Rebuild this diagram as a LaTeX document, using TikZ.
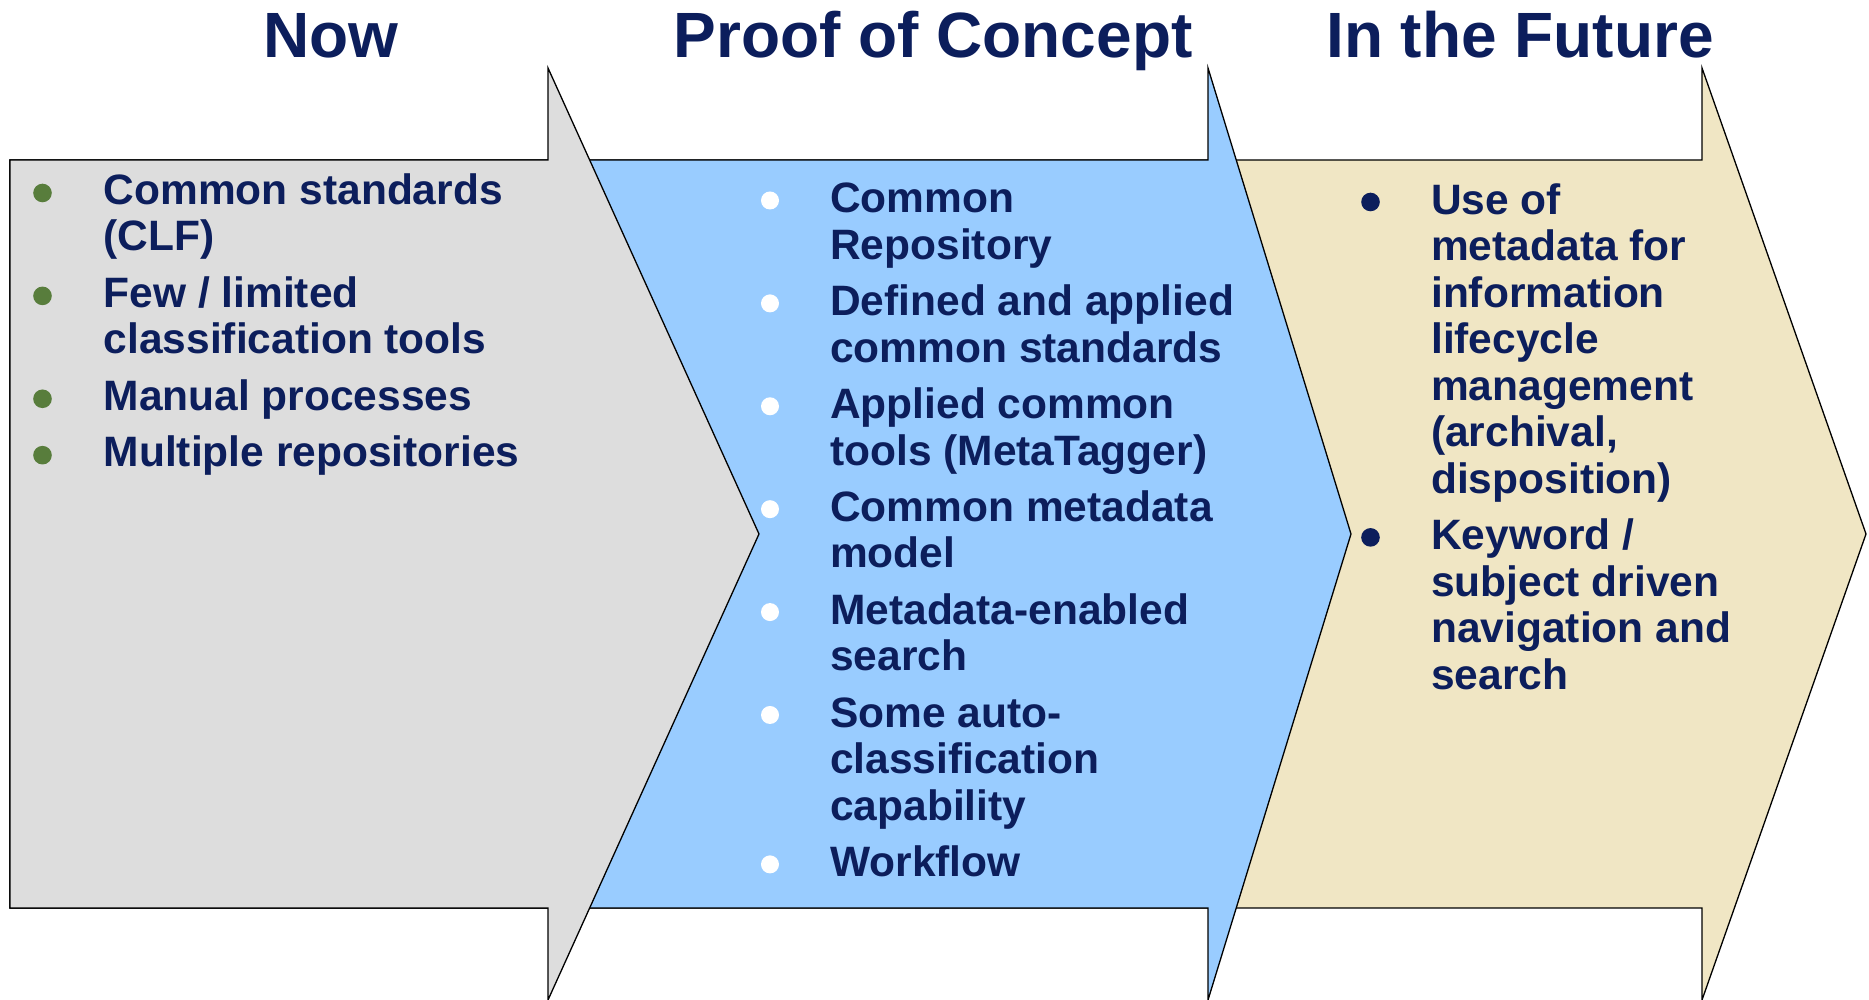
\documentclass[tikz,border=0pt]{standalone}
\usepackage{fontspec}
\setmainfont{Liberation Sans}
\usetikzlibrary{positioning,calc}

\definecolor{navy}{RGB}{12,30,92}
\definecolor{nowgray}{RGB}{221,221,221}
\definecolor{pocblue}{RGB}{153,204,255}
\definecolor{futtan}{RGB}{240,230,196}
\definecolor{dotgreen}{RGB}{88,125,60}

\tikzset{
	title/.style={font=\fontsize{64}{70}\selectfont\bfseries, text=navy, anchor=base, inner sep=0pt},
	item/.style={font=\fontsize{42.5}{46.5}\selectfont\bfseries, text=navy, align=left, inner sep=0pt, anchor=north west},
	stage/.style={draw=black, line width=1.3pt, line join=miter},
}

\begin{document}
\begin{tikzpicture}[x=1pt,y=1pt]
	\def\yshld{932}	%shoulder top (bottom shoulder sits on 0)
	\def\ybody{840}	%top of arrow body
	\def\ylow{92}	%bottom of arrow body
	\def\ytip{466}	%height of the tips
	\useasboundingbox (0,0) rectangle (1869,1000);

	% arrows, back to front
	\filldraw[stage, fill=futtan] (10,\ylow) -- (10,\ybody) -- (1702,\ybody) -- (1702,\yshld) -- (1866,\ytip) -- (1702,0) -- (1702,\ylow) -- cycle;
	\filldraw[stage, fill=pocblue] (10,\ylow) -- (10,\ybody) -- (1208,\ybody) -- (1208,\yshld) -- (1351,\ytip) -- (1208,0) -- (1208,\ylow) -- cycle;
	\filldraw[stage, fill=nowgray] (10,\ylow) -- (10,\ybody) -- (548,\ybody) -- (548,\yshld) -- (759,\ytip) -- (548,0) -- (548,\ylow) -- cycle;

	% headings
	\node[title] (tnow) at (331,942) {Now};
	\node[title] (tpoc) at (933,942) {Proof of Concept};
	\node[title] (tfut) at (1520,942) {In the Future};

	% now
	\node[item] (now1) at (103.5,828.5) {\strut Common standards\\(CLF)\strut};
	\node[item, below right=9.5pt and 0pt of now1.south west] (now2) {\strut Few / limited\\classification tools\strut};
	\node[item, below right=9.5pt and 0pt of now2.south west] (now3) {\strut Manual processes\strut};
	\node[item, below right=9.5pt and 0pt of now3.south west] (now4) {\strut Multiple repositories\strut};

	% proof of concept
	\node[item] (poc1) at (830,820) {\strut Common\\Repository\strut};
	\node[item, below right=9.5pt and 0pt of poc1.south west] (poc2) {\strut Defined and applied\\common standards\strut};
	\node[item, below right=9.5pt and 0pt of poc2.south west] (poc3) {\strut Applied common\\tools (MetaTagger)\strut};
	\node[item, below right=9.5pt and 0pt of poc3.south west] (poc4) {\strut Common metadata\\model\strut};
	\node[item, below right=9.5pt and 0pt of poc4.south west] (poc5) {\strut Metadata-enabled\\search\strut};
	\node[item, below right=9.5pt and 0pt of poc5.south west] (poc6) {\strut Some auto-\\classification\\capability\strut};
	\node[item, below right=9.5pt and 0pt of poc6.south west] (poc7) {\strut Workflow\strut};

	% future
	\node[item] (fut1) at (1431,818.5) {\strut Use of\\metadata for\\information\\lifecycle\\management\\(archival,\\disposition)\strut};
	\node[item, below right=9.5pt and 0pt of fut1.south west] (fut2) {\strut Keyword /\\subject driven\\navigation and\\search\strut};

	% bullets
	\foreach \n in {now1,now2,now3,now4}
		\fill[dotgreen] ($(\n.north west)+(-61,-21.5)$) circle (9.3);
	\foreach \n in {poc1,poc2,poc3,poc4,poc5,poc6,poc7}
		\fill[white] ($(\n.north west)+(-60,-20.5)$) circle (9);
	\foreach \n in {fut1,fut2}
		\fill[navy] ($(\n.north west)+(-60.5,-20.5)$) circle (9.3);
\end{tikzpicture}
\end{document}
